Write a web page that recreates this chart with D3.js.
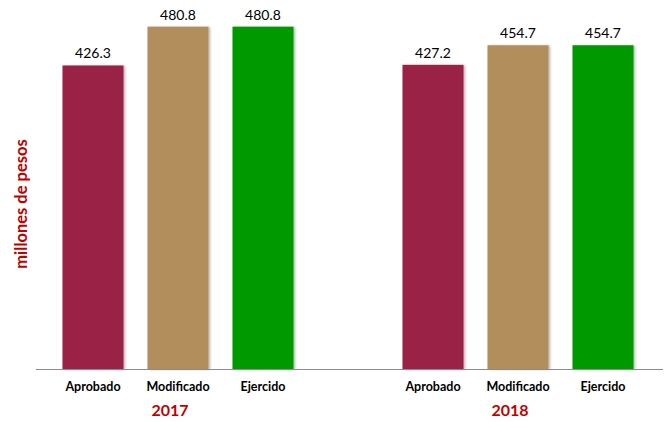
<!DOCTYPE html>
<html>
<head>
<meta charset="utf-8">
<script src="https://cdn.jsdelivr.net/npm/d3@7"></script>
<style>
  html, body { margin: 0; padding: 0; background: #fff; }
  svg { display: block; }
</style>
</head>
<body>
<svg id="chart" width="665" height="422"></svg>
<script>
// ---- data ----
const years = ["2017", "2018"];
const categories = ["Aprobado", "Modificado", "Ejercido"];
const values2017 = [426.3, 480.8, 480.8];
const values2018 = [427.2, 454.7, 454.7];
const barColors = ["#9B2247", "#B38E5D", "#009900"];
const yAxisTitle = "millones de pesos";

// ---- layout ----
const svg = d3.select("#chart");
const baseY = 369;
const font = "Lato, 'Open Sans', 'Liberation Sans', sans-serif";

// slot keys: 3 categories per year, one empty slot between groups
const slots = ["2017|0", "2017|1", "2017|2", "gap", "2018|0", "2018|1", "2018|2"];
const x = d3.scaleBand().domain(slots).range([50.5, 645.5]).paddingInner(0.282).paddingOuter(0.141);
const y = d3.scaleLinear().domain([0, 500]).range([baseY, baseY - 356]);

const rows = [];
[values2017, values2018].forEach((vals, gi) => {
  vals.forEach((v, ci) => rows.push({ year: years[gi], ci, cat: categories[ci], value: v, key: years[gi] + "|" + ci }));
});

// shadow filter
const defs = svg.append("defs");
const f = defs.append("filter").attr("id", "sh").attr("x", "-10%").attr("y", "-10%").attr("width", "130%").attr("height", "130%");
f.append("feDropShadow").attr("dx", 1.5).attr("dy", 0.5).attr("stdDeviation", 0.8).attr("flood-color", "#000").attr("flood-opacity", 0.3);

// bars
svg.append("g").selectAll("rect").data(rows).join("rect")
  .attr("x", d => x(d.key))
  .attr("y", d => y(d.value))
  .attr("width", x.bandwidth())
  .attr("height", d => y(0) - y(d.value))
  .attr("fill", d => barColors[d.ci])
  .attr("filter", "url(#sh)");

// value labels
svg.append("g").selectAll("text").data(rows).join("text")
  .attr("x", d => x(d.key) + x.bandwidth() / 2)
  .attr("y", d => y(d.value) - 7)
  .attr("text-anchor", "middle")
  .attr("font-family", font)
  .attr("font-size", 14)
  .attr("fill", "#000")
  .text(d => d.value.toFixed(1));

// baseline axis line
svg.append("line")
  .attr("x1", 36).attr("x2", 663)
  .attr("y1", baseY + 0.5).attr("y2", baseY + 0.5)
  .attr("stroke", "#8c8c8c").attr("stroke-width", 1.2);

// category labels
svg.append("g").selectAll("text").data(rows).join("text")
  .attr("x", d => x(d.key) + x.bandwidth() / 2)
  .attr("y", 391)
  .attr("text-anchor", "middle")
  .attr("font-family", font)
  .attr("font-weight", "bold")
  .attr("font-size", 12.5)
  .attr("fill", "#000")
  .text(d => d.cat);

// year labels
svg.append("g").selectAll("text").data(years).join("text")
  .attr("x", d => x(d + "|1") + x.bandwidth() / 2 - 8)
  .attr("y", 416)
  .attr("text-anchor", "middle")
  .attr("font-family", font)
  .attr("font-weight", "bold")
  .attr("font-size", 16)
  .attr("fill", "#C00000")
  .text(d => d);

// y axis title
svg.append("text")
  .attr("transform", "translate(27,204) rotate(-90)")
  .attr("text-anchor", "middle")
  .attr("font-family", font)
  .attr("font-weight", "bold")
  .attr("font-size", 16.5)
  .attr("fill", "#C00000")
  .text(yAxisTitle);
</script>
</body>
</html>
